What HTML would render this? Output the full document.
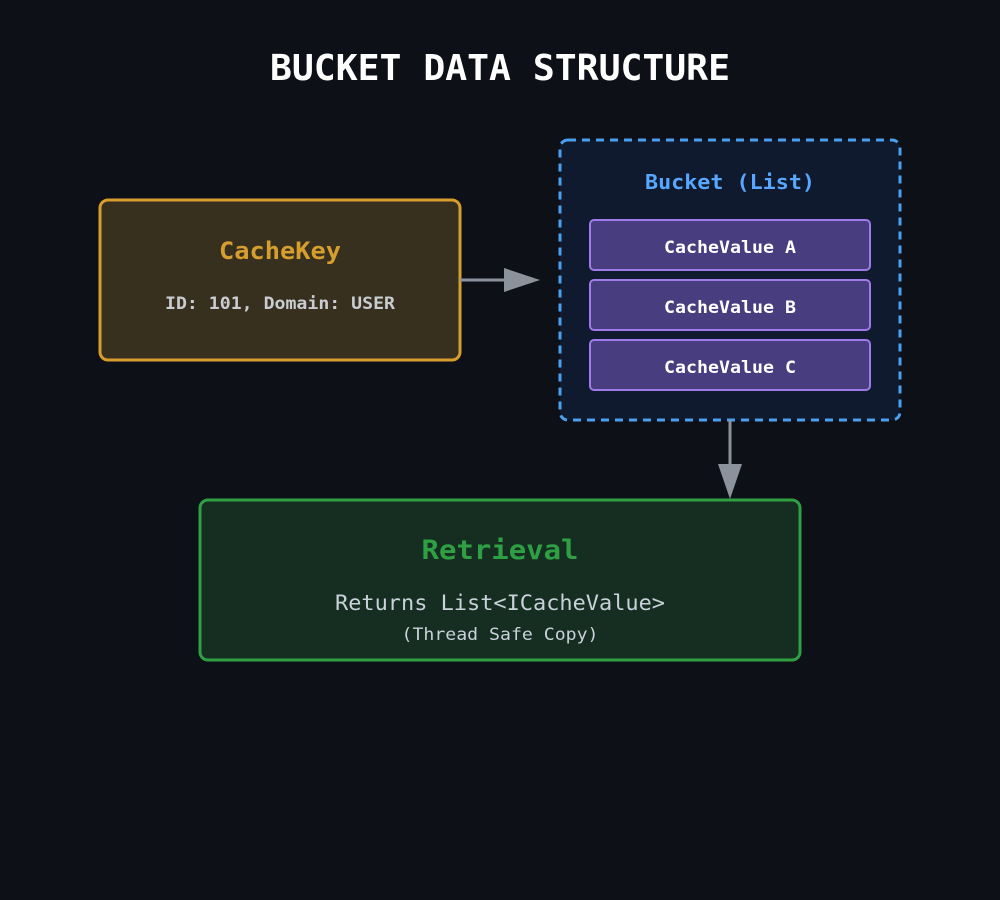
<!DOCTYPE html>
<html><head><meta charset="utf-8"><style>
html,body{margin:0;padding:0;background:#0d1017;}
svg{display:block;}
text{font-family:"DejaVu Sans Mono","Liberation Mono",monospace;}
</style></head><body>
<svg width="1000" height="900" viewBox="0 0 1000 900" xmlns="http://www.w3.org/2000/svg">
<rect width="1000" height="900" fill="#0d1017"/>
<text x="500" y="80" text-anchor="middle" font-size="36" font-weight="bold" fill="#ffffff" textLength="460" lengthAdjust="spacingAndGlyphs">BUCKET DATA STRUCTURE</text>

<rect x="100" y="200" width="360" height="160" rx="8" fill="#38301e" stroke="#d69e2e" stroke-width="3"/>
<text x="280" y="259" text-anchor="middle" font-size="24" font-weight="bold" fill="#d69e2e" textLength="122" lengthAdjust="spacingAndGlyphs">CacheKey</text>
<text x="280" y="309" text-anchor="middle" font-size="17" font-weight="bold" fill="#c9ccd1" textLength="230" lengthAdjust="spacingAndGlyphs">ID: 101, Domain: USER</text>

<line x1="460" y1="280" x2="506" y2="280" stroke="#8b929c" stroke-width="3"/>
<polygon points="504,268 540,280 504,292" fill="#8b929c"/>

<rect x="560" y="140" width="340" height="280" rx="8" fill="#0f1a2e" stroke="#4aa0f0" stroke-width="3" stroke-dasharray="8,6"/>
<text x="730" y="189" text-anchor="middle" font-size="20" font-weight="bold" fill="#58a6ff" textLength="170" lengthAdjust="spacingAndGlyphs">Bucket (List)</text>

<rect x="590" y="220" width="280" height="50" rx="4" fill="#483d7e" stroke="#9f7aea" stroke-width="2"/>
<text x="730" y="253" text-anchor="middle" font-size="17" font-weight="bold" fill="#ffffff" textLength="132" lengthAdjust="spacingAndGlyphs">CacheValue A</text>
<rect x="590" y="280" width="280" height="50" rx="4" fill="#483d7e" stroke="#9f7aea" stroke-width="2"/>
<text x="730" y="313" text-anchor="middle" font-size="17" font-weight="bold" fill="#ffffff" textLength="132" lengthAdjust="spacingAndGlyphs">CacheValue B</text>
<rect x="590" y="340" width="280" height="50" rx="4" fill="#483d7e" stroke="#9f7aea" stroke-width="2"/>
<text x="730" y="373" text-anchor="middle" font-size="17" font-weight="bold" fill="#ffffff" textLength="132" lengthAdjust="spacingAndGlyphs">CacheValue C</text>

<line x1="730" y1="420" x2="730" y2="466" stroke="#8b929c" stroke-width="3"/>
<polygon points="718,464 742,464 730,499" fill="#8b929c"/>

<rect x="200" y="500" width="600" height="160" rx="8" fill="#152e21" stroke="#2ea043" stroke-width="3"/>
<text x="500" y="559" text-anchor="middle" font-size="27" font-weight="bold" fill="#2ea043" textLength="157" lengthAdjust="spacingAndGlyphs">Retrieval</text>
<text x="500" y="610" text-anchor="middle" font-size="21" fill="#c9d1d9" textLength="330" lengthAdjust="spacingAndGlyphs">Returns List&lt;ICacheValue&gt;</text>
<text x="500" y="640" text-anchor="middle" font-size="17" fill="#c9d1d9" textLength="197" lengthAdjust="spacingAndGlyphs">(Thread Safe Copy)</text>
</svg>
</body></html>
